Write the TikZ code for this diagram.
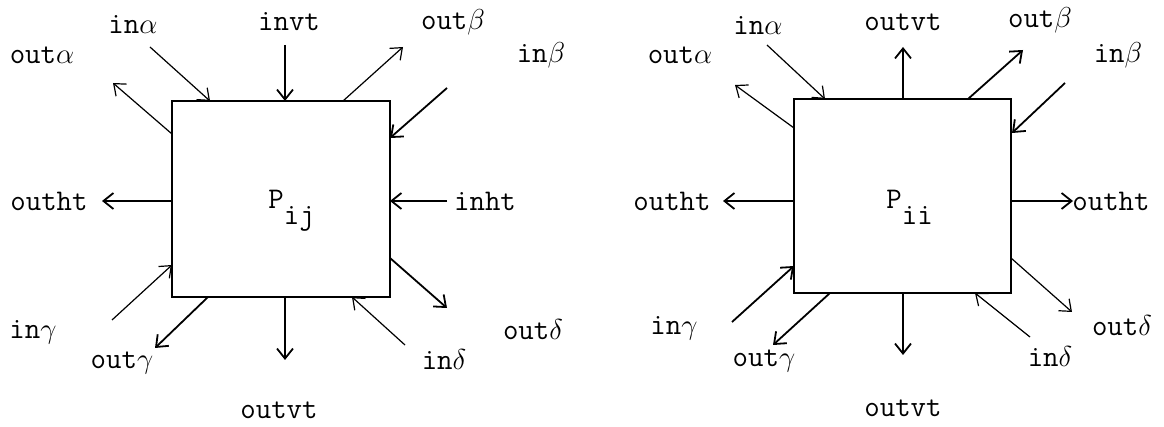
\documentclass[tikz,border=0pt]{standalone}
\usetikzlibrary{arrows.meta}
\begin{document}
\begin{tikzpicture}[x=0.5pt,y=-0.5pt,
  lbl/.style={font=\fontsize{15}{18}\selectfont\ttfamily, inner sep=0pt},
  box/.style={draw, line width=1pt, inner sep=0pt},
  arr/.style={-{Straight Barb[length=5pt,width=8pt]}, line width=0.9pt},
  tarr/.style={arr, line width=0.6pt}
]
\useasboundingbox (0,0) rectangle (1164,427);

% ---------- left cell ----------
\node[box, minimum width=109pt, minimum height=98pt] (L) at (281,199) {};
\node[lbl, anchor=base west] (Lp) at (268,209) {P\raisebox{-8pt}{ij}};

\node[lbl] (Loa) at (42,55) {out$\alpha$};
\node[lbl] (Lia) at (133,24) {in$\alpha$};
\node[lbl] (Livt) at (289,22) {invt};
\node[lbl] (Lob) at (453,22) {out$\beta$};
\node[lbl] (Lib) at (541,55) {in$\beta$};
\node[lbl] (Loht) at (49,201) {outht};
\node[lbl] (Liht) at (485,201) {inht};
\node[lbl] (Lig) at (33,332) {in$\gamma$};
\node[lbl] (Log) at (122,363) {out$\gamma$};
\node[lbl] (Lovt) at (279,410) {outvt};
\node[lbl] (Lid) at (444,360) {in$\delta$};
\node[lbl] (Lod) at (533,330) {out$\delta$};

\coordinate (La1) at (172,134); \coordinate (La2) at (113,83);
\coordinate (Lb1) at (150,47);  \coordinate (Lb2) at (210,101);
\coordinate (Lc1) at (285,45);  \coordinate (Lc2) at (285,101);
\coordinate (Ld1) at (343,101); \coordinate (Ld2) at (403,47);
\coordinate (Le1) at (447,88);  \coordinate (Le2) at (390,138);
\coordinate (Lf1) at (447,201); \coordinate (Lf2) at (390,201);
\coordinate (Lg1) at (172,201); \coordinate (Lg2) at (102,201);
\coordinate (Lh1) at (112,320); \coordinate (Lh2) at (172,265);
\coordinate (Li1) at (208,297); \coordinate (Li2) at (155,348);
\coordinate (Lj1) at (285,297); \coordinate (Lj2) at (285,360);
\coordinate (Lk1) at (405,345); \coordinate (Lk2) at (352,297);
\coordinate (Ll1) at (390,258); \coordinate (Ll2) at (447,308);

\draw[tarr] (La1) -- (La2);
\draw[tarr] (Lb1) -- (Lb2);
\draw[arr]  (Lc1) -- (Lc2);
\draw[tarr] (Ld1) -- (Ld2);
\draw[arr]  (Le1) -- (Le2);
\draw[arr]  (Lf1) -- (Lf2);
\draw[arr]  (Lg1) -- (Lg2);
\draw[tarr] (Lh1) -- (Lh2);
\draw[arr]  (Li1) -- (Li2);
\draw[arr]  (Lj1) -- (Lj2);
\draw[tarr] (Lk1) -- (Lk2);
\draw[arr]  (Ll1) -- (Ll2);

% ---------- right cell ----------
\node[box, minimum width=108.5pt, minimum height=97pt] (R) at (902.5,196.5) {};
\node[lbl, anchor=base west] (Rp) at (886,209) {P\raisebox{-8pt}{ii}};

\node[lbl] (Roa) at (680,55) {out$\alpha$};
\node[lbl] (Ria) at (758,25) {in$\alpha$};
\node[lbl] (Rovt) at (903,22) {outvt};
\node[lbl] (Rob) at (1040,20) {out$\beta$};
\node[lbl] (Rib) at (1118,55) {in$\beta$};
\node[lbl] (Roht) at (672,201) {outht};
\node[lbl] (Roht2) at (1111,201) {outht};
\node[lbl] (Rig) at (674,328) {in$\gamma$};
\node[lbl] (Rog) at (764,361) {out$\gamma$};
\node[lbl] (Rovt2) at (903,408) {outvt};
\node[lbl] (Rid) at (1050,357) {in$\delta$};
\node[lbl] (Rod) at (1122,326) {out$\delta$};

\coordinate (Ra1) at (794,128);  \coordinate (Ra2) at (735,85);
\coordinate (Rb1) at (767,45);   \coordinate (Rb2) at (825,99);
\coordinate (Rc1) at (903,99);   \coordinate (Rc2) at (903,47);
\coordinate (Rd1) at (968,99);   \coordinate (Rd2) at (1023,50);
\coordinate (Re1) at (1065,83);  \coordinate (Re2) at (1012,133);
\coordinate (Rf1) at (1011,201); \coordinate (Rf2) at (1073,201);
\coordinate (Rg1) at (794,201);  \coordinate (Rg2) at (723,201);
\coordinate (Rh1) at (732,322);  \coordinate (Rh2) at (794,266);
\coordinate (Ri1) at (830,293);  \coordinate (Ri2) at (773,345);
\coordinate (Rj1) at (903,293);  \coordinate (Rj2) at (903,355);
\coordinate (Rk1) at (1030,337); \coordinate (Rk2) at (975,293);
\coordinate (Rl1) at (1011,258); \coordinate (Rl2) at (1072,312);

\draw[tarr] (Ra1) -- (Ra2);
\draw[tarr] (Rb1) -- (Rb2);
\draw[arr]  (Rc1) -- (Rc2);
\draw[arr]  (Rd1) -- (Rd2);
\draw[arr]  (Re1) -- (Re2);
\draw[arr]  (Rf1) -- (Rf2);
\draw[arr]  (Rg1) -- (Rg2);
\draw[arr]  (Rh1) -- (Rh2);
\draw[arr]  (Ri1) -- (Ri2);
\draw[arr]  (Rj1) -- (Rj2);
\draw[tarr] (Rk1) -- (Rk2);
\draw[tarr] (Rl1) -- (Rl2);
\end{tikzpicture}
\end{document}
